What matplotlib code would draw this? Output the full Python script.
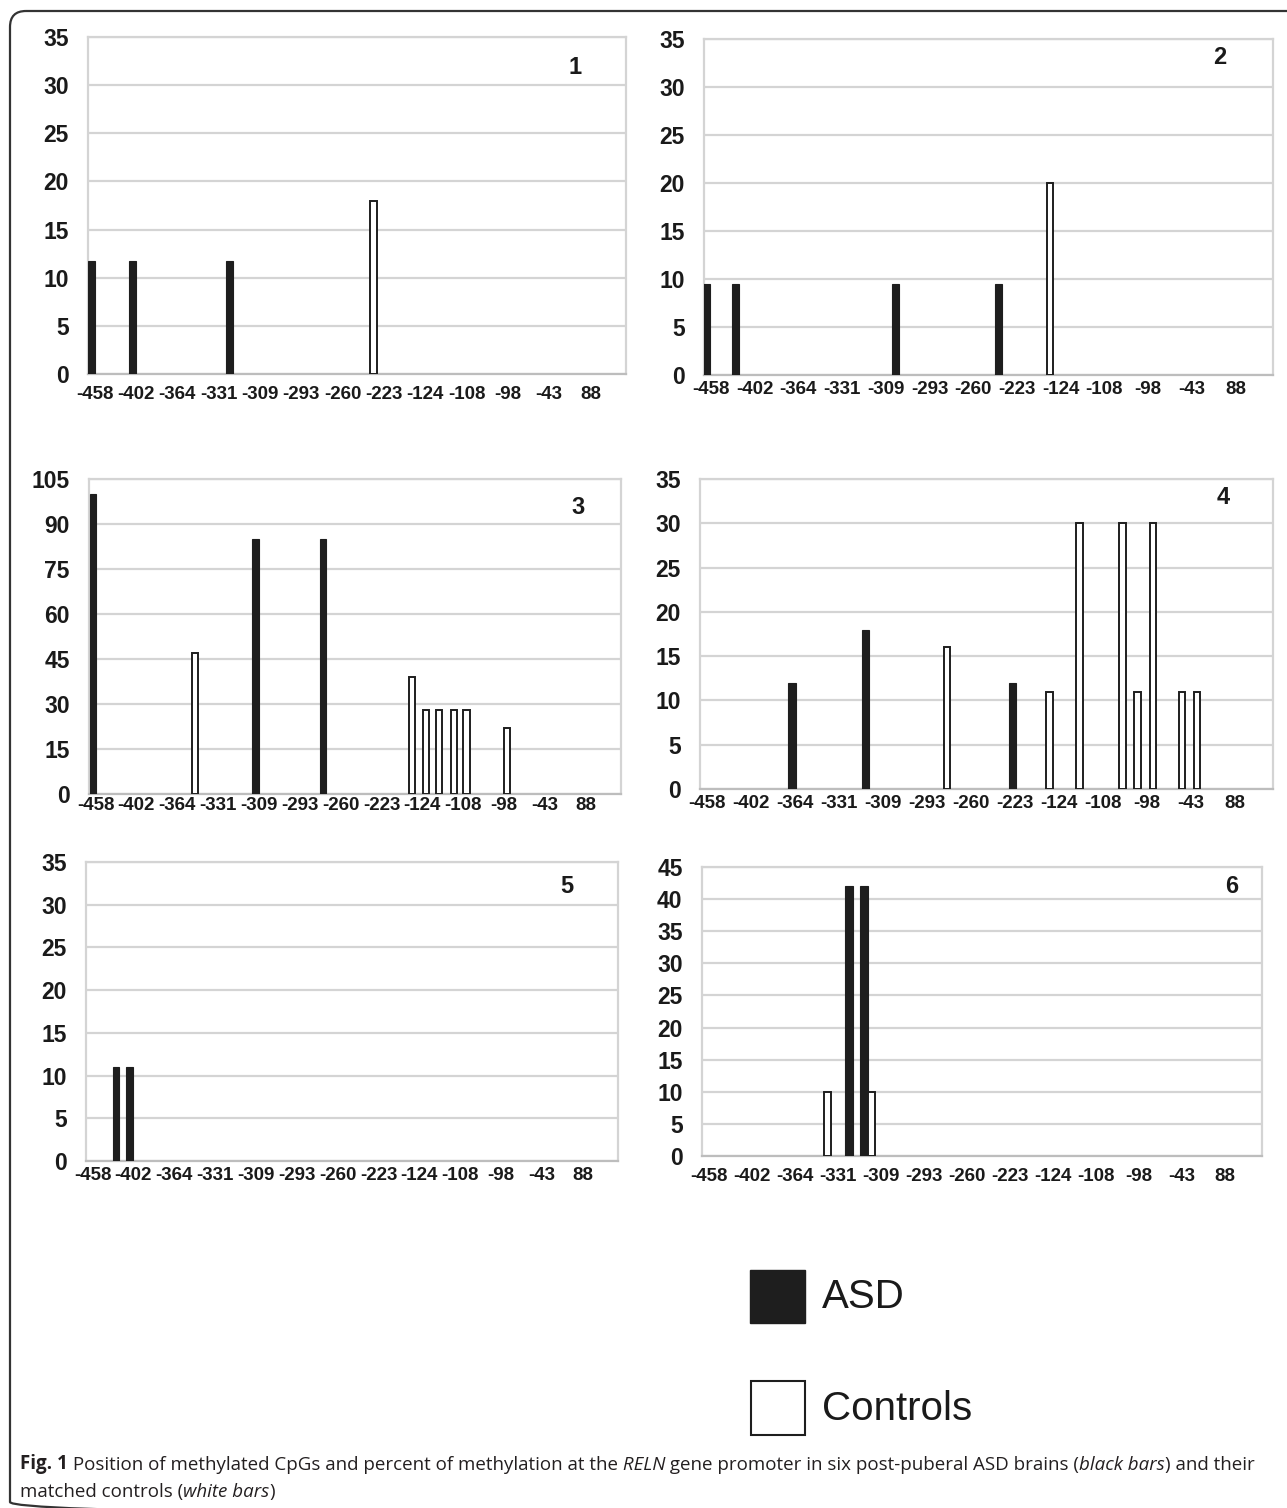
import numpy as np
import matplotlib
matplotlib.use("Agg")
import matplotlib.pyplot as plt
from matplotlib.patches import FancyBboxPatch, Rectangle

# CpG position labels along the promoter
cpg_labels = ['-458', '-402', '-364', '-331', '-309', '-293', '-260',
              '-223', '-124', '-108', '-98', '-43', '88']

# bar positions are in "label units" (0 = first label, 12 = last label)
asd_pos = [
    [-0.08, 0.92, 3.27],
    [-0.11, 0.57, 4.23, 6.59],
    [-0.06, 3.92, 5.57],
    [1.93, 3.61, 6.93],
    [0.57, 0.90],
    [3.26, 3.61],
]
asd_val = [
    [11.7, 11.7, 11.7],
    [9.5, 9.5, 9.5, 9.5],
    [100, 85, 85],
    [12, 18, 12],
    [11, 11],
    [42, 42],
]
ctrl_pos = [
    [6.75],
    [7.76],
    [2.43, 7.74, 8.08, 8.41, 8.77, 9.08, 10.08],
    [5.45, 7.78, 8.46, 9.44, 9.78, 10.13, 10.79, 11.13],
    [],
    [2.76, 3.78],
]
ctrl_val = [
    [18],
    [20],
    [47, 39, 28, 28, 28, 28, 22],
    [16, 11, 30, 30, 11, 30, 11, 11],
    [],
    [10, 10],
]
y_max = [35, 35, 105, 35, 35, 45]
y_step = [5, 5, 15, 5, 5, 5]

W, H = 1287, 1508
fig = plt.figure(figsize=(W / 100, H / 100), dpi=100)
fig.patch.set_facecolor('white')

# plot areas in pixels: left, right, top, bottom
boxes = [(88, 626, 37, 374), (704, 1273, 39, 375),
         (89, 621, 479, 794), (700, 1273, 479, 789),
         (86, 618, 862, 1161), (702, 1262, 867, 1156)]
xpads = [8.5, 4.5, 2, 4, 4, 8.5]
num_xy = [(575, 68), (1220, 58), (578, 508), (1223, 497), (567, 887), (1232, 887)]

grid_c = '#d4d4d4'
tick_font = dict(family='Liberation Sans', weight='bold')

for i, (l, r, t, b) in enumerate(boxes):
    ax = fig.add_axes([l / W, 1 - b / H, (r - l) / W, (b - t) / H])
    ax.set_xlim(-0.16, 12.86)
    ax.set_ylim(0, y_max[i])
    ax.set_yticks(np.arange(0, y_max[i] + 1, y_step[i]))
    ax.set_xticks(range(len(cpg_labels)))
    ax.set_xticklabels(cpg_labels, fontsize=13.5, **tick_font, color='#1a1a1a')
    for lab in ax.get_yticklabels():
        lab.set_fontsize(16.5)
        lab.set_fontfamily('Liberation Sans')
        lab.set_fontweight('bold')
        lab.set_color('#1a1a1a')
    ax.tick_params(axis='y', length=0, pad=14)
    ax.tick_params(axis='x', length=0, pad=xpads[i])
    ax.yaxis.grid(True, color=grid_c, lw=1.6)
    ax.set_axisbelow(True)
    for s in ax.spines.values():
        s.set_color(grid_c)
        s.set_linewidth(1.6)
    ax.spines['bottom'].set_color('#bdbdbd')
    bw_black = 0.18 if i == 5 else 0.16
    ax.bar(asd_pos[i], asd_val[i], width=bw_black, color='#1e1e1e',
           edgecolor='#1e1e1e', lw=0.8, zorder=3)
    if ctrl_pos[i]:
        ax.bar(ctrl_pos[i], ctrl_val[i], width=0.15, color='white',
               edgecolor='#1e1e1e', lw=1.4, zorder=3)
    fig.text(num_xy[i][0] / W, 1 - num_xy[i][1] / H, str(i + 1),
             fontsize=17, fontweight='bold', family='Liberation Sans',
             ha='center', va='center', color='#1a1a1a')

# background layer for legend, caption and frame
bg = fig.add_axes([0, 0, 1, 1], zorder=-1)
bg.set_xlim(0, W)
bg.set_ylim(H, 0)
bg.axis('off')

frame = FancyBboxPatch((10, 11), 1300, 1507,
                       boxstyle='round,pad=0,rounding_size=16',
                       fc='none', ec='#333333', lw=1.6, clip_on=False)
bg.add_patch(frame)

# legend
bg.add_patch(Rectangle((750, 1270), 55, 53, fc='#1e1e1e', ec='#1e1e1e', lw=1))
bg.add_patch(Rectangle((751, 1381), 54, 54, fc='white', ec='#1e1e1e', lw=1.5))
bg.text(822, 1297, 'ASD', fontsize=29, family='Liberation Sans',
        va='center', ha='left', color='#1a1a1a')
bg.text(822, 1409, 'Controls', fontsize=29, family='Liberation Sans',
        va='center', ha='left', color='#1a1a1a')

# caption with mixed styles
cap_font = dict(family='Open Sans', fontsize=13.5, color='#231f20')


def write_line(pieces, x, y):
    style, s = pieces[0]
    t = bg.text(x, y, s, va='bottom', ha='left', **cap_font, **style)
    for style, s in pieces[1:]:
        t = bg.annotate(s, xy=(1, 0), xycoords=t, va='bottom', ha='left',
                        **cap_font, **style)


bold = dict(fontweight='bold')
reg = dict()
ital = dict(fontstyle='italic')

line1 = [(bold, 'Fig. 1'),
         (reg, ' Position of methylated CpGs and percent of methylation at the'),
         (ital, ' RELN'),
         (reg, ' gene promoter in six post-puberal ASD brains ('),
         (ital, 'black bars'),
         (reg, ') and their')]
line2 = [(reg, 'matched controls ('),
         (ital, 'white bars'),
         (reg, ')')]
write_line(line1, 20, 1474)
write_line(line2, 20, 1501)

fig.savefig('out.png', dpi=100, facecolor='white')
